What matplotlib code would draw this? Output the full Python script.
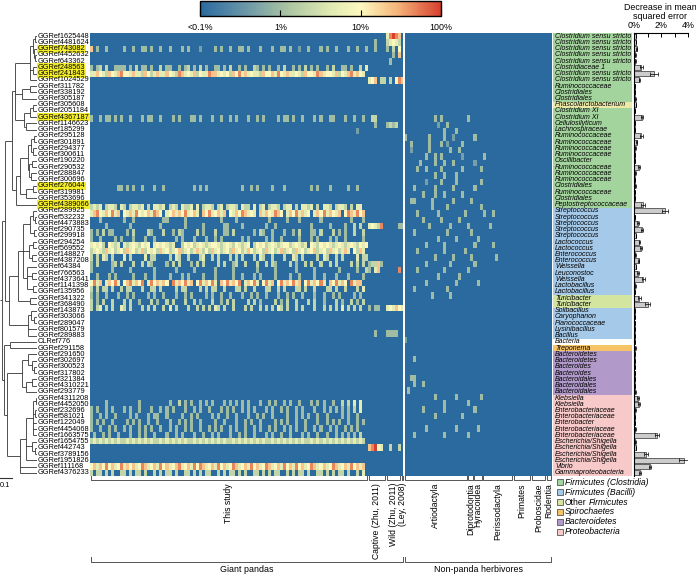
import numpy as np
import matplotlib.pyplot as plt
from matplotlib.colors import LinearSegmentedColormap, LogNorm
from matplotlib.cm import ScalarMappable
from matplotlib.patches import Rectangle
from matplotlib.transforms import blended_transform_factory

plt.rcParams['font.family'] = ['Liberation Sans', 'DejaVu Sans']

# ---- data -------------------------------------------------------------
otu_ids = ["GGRef1625448", "GGRef4481624", "GGRef743082", "GGRef4452632", "GGRef643362",
           "GGRef248563", "GGRef241843", "GGRef1024529", "GGRef311782", "GGRef338192",
           "GGRef305187", "GGRef305608", "GGRef2051184", "GGRef4367187", "GGRef1146623",
           "GGRef185299", "GGRef295128", "GGRef301891", "GGRef294377", "GGRef300611",
           "GGRef190220", "GGRef290532", "GGRef288847", "GGRef300696", "GGRef276044",
           "GGRef319981", "GGRef353696", "GGRef4389066", "GGRef289925", "GGRef532232",
           "GGRef4473883", "GGRef290735", "GGRef299918", "GGRef294254", "GGRef569552",
           "GGRef148827", "GGRef4387208", "GGRef64384", "GGRef766563", "GGRef4373641",
           "GGRef1141398", "GGRef135956", "GGRef341322", "GGRef368490", "GGRef143873",
           "GGRef303066", "GGRef289047", "GGRef801579", "GGRef289883", "CLRef776",
           "GGRef291158", "GGRef291650", "GGRef302697", "GGRef300523", "GGRef317802",
           "GGRef321384", "GGRef4310221", "GGRef293779", "GGRef4311208", "GGRef4452050",
           "GGRef232696", "GGRef581021", "GGRef122049", "GGRef4454068", "GGRef1663575",
           "GGRef1654755", "GGRef442743", "GGRef3789156", "GGRef1951826", "GGRef111168",
           "GGRef4376233"]
highlighted = ["GGRef743082", "GGRef248563", "GGRef241843", "GGRef4367187",
               "GGRef276044", "GGRef4389066"]

taxa = ["Clostridium sensu stricto"] * 5 + ["Clostridiaceae 1"] + ["Clostridium sensu stricto"] * 2 + [
    "Ruminococcaceae", "Clostridiales", "Clostridiales", "Phascolarctobacterium",
    "Clostridium XI", "Clostridium XI", "Cellulosilyticum", "Lachnospiraceae",
    "Ruminococcaceae", "Ruminococcaceae", "Ruminococcaceae", "Ruminococcaceae",
    "Oscillibacter", "Ruminococcaceae", "Ruminococcaceae", "Ruminococcaceae",
    "Clostridiales", "Ruminococcaceae", "Clostridiales", "Peptostreptococcaceae",
    "Streptococcus", "Streptococcus", "Streptococcus", "Streptococcus", "Streptococcus",
    "Lactococcus", "Lactococcus", "Enterococcus", "Enterococcus", "Weissella",
    "Leuconostoc", "Weissella", "Lactobacillus", "Lactobacillus", "Turicibacter",
    "Turicibacter", "Solibacillus", "Caryophanon", "Planococcaceae", "Lysinibacillus",
    "Bacillus", "Bacteria", "Treponema", "Bacteroidetes", "Bacteroidetes",
    "Bacteroides", "Bacteroides", "Bacteroidales", "Bacteroidales", "Bacteroidales",
    "Klebsiella", "Klebsiella", "Enterobacteriaceae", "Enterobacteriaceae", "Enterobacter",
    "Enterobacteriaceae", "Enterobacteriaceae", "Escherichia/Shigella",
    "Escherichia/Shigella", "Escherichia/Shigella", "Escherichia/Shigella", "Vibrio",
    "Gammaproteobacteria"]

# phylum / class code per row
tax_group = "C" * 11 + "Y" + "C" * 16 + "B" * 14 + "O" * 2 + "B" * 5 + "N" + "S" + "D" * 7 + "G" * 13
group_colors = {"C": "#a4d49d", "B": "#a5c9e9", "O": "#d3e59f", "Y": "#ece9a9",
                "S": "#f6c366", "D": "#b19aca", "G": "#f7c9c9", "N": "#ffffff"}
# (colour code, plain prefix, italic part)
legend_labels = [("C", "", "Firmicutes (Clostridia)"),
                 ("B", "", "Firmicutes (Bacilli)"),
                 ("O", "Other", "Firmicutes"),
                 ("S", "", "Spirochaetes"),
                 ("D", "", "Bacteroidetes"),
                 ("G", "", "Proteobacteria")]

# decrease in mean squared error (%) and its error bar
mse = [0.15, 0.15, 0.2, 0.1, 0.1, 0.55, 1.5, 0.4, 0.05, 0.05, 0.1, 0.15, 0.05, 0.6, 0.05, 0.05, 0.55, 0.2, 0.1, 0.05,
       0.05, 0.4, 0.1, 0.05, 0.1, 0.05, 0.05, 0.7, 2.3, 0.05, 0.3, 0.6, 0.15, 0.4, 0.5, 0.1, 0.35, 0.15, 0.3, 0.7,
       0.1, 0.05, 0.4, 1.0, 0.05, 0.05, 0.05, 0.05, 0.05, 0.05, 0.1, 0.05, 0.05, 0.05, 0.05, 0.05, 0.05, 0.1, 0.3, 0.4,
       0.1, 0.05, 0.05, 0.1, 1.7, 0.1, 0.15, 0.9, 3.7, 1.2, 0.45]
mse_err = [0.02, 0.02, 0.03, 0.02, 0.02, 0.08, 0.3, 0.06, 0.01, 0.01, 0.02, 0.02, 0.01, 0.08, 0.01, 0.01, 0.08, 0.03, 0.02, 0.01,
           0.01, 0.08, 0.02, 0.01, 0.02, 0.01, 0.01, 0.15, 0.25, 0.01, 0.05, 0.08, 0.03, 0.06, 0.07, 0.02, 0.05, 0.03, 0.05, 0.1,
           0.02, 0.01, 0.1, 0.15, 0.01, 0.01, 0.01, 0.01, 0.01, 0.01, 0.02, 0.01, 0.01, 0.01, 0.01, 0.01, 0.01, 0.02, 0.05, 0.08,
           0.02, 0.01, 0.01, 0.02, 0.15, 0.02, 0.03, 0.15, 0.4, 0.08, 0.05]

# sample groups (name, number of columns)
panda_groups = [("This study", 92), ("Captive (Zhu, 2011)", 6), ("Wild (Zhu, 2011)", 5), ("(Ley, 2008)", 1)]
herb_groups = [("Artiodactyla", 21), ("Diprotodontia", 2), ("Hyracoidea", 3), ("Perissodactyla", 10),
               ("Primates", 6), ("Proboscidae", 5), ("Rodentia", 2)]

# relative abundance per cell, '.' = <0.1%, digit d = 10**(d/3 - 1) %
study = [
    "", "",
    "7.3..3.....3..3..33.3..3..3...3.3...2....3.3..3..33.3...3...3..33.3..2..3...3.3..3...3..3..3",
    "", "",
    "3.34.4..3333.3.4.33.3..4.33..3.34.3.4.3..33.3.4..3.3..43.3.3..3.4..3.3.4.3.3..3.4..33.3..4.5",
    "5576547657866575547645755765487565746558775656476857565547667586575565476658756657465785765",
    "", "", "", "", "", "",
    "3..3.33.3.3..3...3.33..3...3.3...33.3...3..3..3.3...3..3.3....3.33.3..3...3.3..33...3..3..3",
    "", "........................................................................................2",
    "", "", "", "", "", "", "", "",
    ".........33.3.3..3...3..3.........3.3.3...........3..3.3....3...3........3.3...3.....3..3",
    "", "",
    "4545.4554.54.45545.4.5545.454.5445.5.4554.45.4554.544.5.45.4554.455.4.5545.4.554.4554.4.55",
    "5786576857.6575865675876.56757685675.76856757.657687565.75765876.57685756.576857657.6875867",
    "...3.......3..3.........33.....3...........3....3..........3.....3...3......3.........3...3",
    ".....3.......3.........3.......3.....3......33....3.......3..3...........3.....3....3..4.4",
    "3.3.4.33....3.4....43...4..3.43....4.3...4..33.4......3.43..3...3..3.4...33.4...4.3.3..4..4",
    "3..3....3.3...3...3..3......3.3...3...3..3.3......3.3.....3.3..3.....3...3.3...3.3..3.....3",
    "56564.6545.545654656.5656545..46564565456654565465456.465645654566456545.6546565456545654656",
    "45654756456475645746564756456745645754647564564756457645647564574564756456745647564575.6475",
    "4.4.54.4...5.4....5.44....4.54..4...45..4.4...4.4.4...4.54..4...4..54.4....4.54..4.4....5.44",
    "3.4....34.4...4..4.43....3.4.4...3.4.4....4.4..34..4...4..4.43....4.3..4.4..4..4.4....4.4.4",
    "3......3.....3.......3......3.....3......3.....3.......3.....3......3.....3.......3.....3..4",
    "..3...3.3.....3...3..3....3...3.3....3...3.....3..3...3.3....3....3..3....3..3...3...3....3",
    "6857.57685.6785768.5867576.8576857.6857685.7685768.57685.6857.68576857.6857685.768576.8577",
    "4.4.44.4..4.44...4..44.4....4.44....4.4.44..4...44.4..4...44..4.4...44.4..4...44.4..4...4.5",
    "3.3..3...3..3.3....3.3..3...3..3.3....3.3..3..3...3..3.3..3...3..3.3..3...3..3..3.3....3.3",
    "4.3.4..4...4.4..3...4.3..4.4...4..4.3...4..3.4.4....4.4.3....4.3.4..4...4.4..3...4.3..4.3.4",
    "4.45.4.4..54.4...4.4.4..4.5.4...4..4.4.4.54.4..4...4.4..4.4.4.54.4..4.4...4..4.4.4.5.4.4.4",
    "", "", "", "", "", "", "", "", "", "", "", "", "", "",
    ".....3..........3.........3..4.3.3..3.3.3...3.3.3.3.3...3..3.3..3.3..3...3.3.3..3..4.4.5.5",
    "3.3..3.3...3.3..3...3..3.3.3...3..3.3..3...3.3.3..3.3.3...3.3..3.3..3.3...3..3.3.3.3.3.4.5",
    "3..3.3..3....3.3...3.33..3....3..3.3....3.3..3..3...3..3.3..3....3..3.3.3..3..3....3.3..3..",
    "3.3.3..3....3.3.3..3..3...3..3.3.3..3....3..3...3..3.3..3....3.3.3..3..3...3..3.3.3..3..3.3.",
    "3..3..3.3..3.3..3.3.3..3..3.3..3.3..3..3.3.3..3.3..3..3.3..3.3..3.3.3..3..3.3..3.3..3.3.3..",
    ".3..3.3..3...3..3.3..3...3..3.3...3..3..3.3...3..3.3..3...3.3..3..3...3.3..3..3..3.3.3.3.4",
    "4545454545445454545454454545454544545454545454454545454545445454545454544545454545454545454",
    "", "", "",
    "6757686756857675687567586756785675868756758675687567586756875675867586756875675687567586757",
    "4.44.4.4..44.4.44.4..4.4.44.4..44.4.4.44..4.4.44.4.4..44.4.4.44..4.4.44.4..44.4.4.44.4..4.5",
    "4..4.4.4..4.44.4..4.4.4..4.44.4..4.4..4.44.4..4.4..4.44..4.4.4..4.44.4..4.4.4..4.44.4..4.5",
]
# captive (6) + wild (5) + Ley (1)
panda_other = [
    "......58987.", "..3...45654.", "..3...3.4.6.", "........3.7.", ".......3....",
    "", "", "567.44.4.687", "", "", "", "", "",
    ".44.........", "..3...3434..", "", "", "", "", "", "", "", "", "", "", "", "", "", "",
    "", "56548.....33", "", "", "", "", "", "34473.......", "3.57......8.",
    "", "", "", "", "", "3.33..565765", "", "", "", "..3...3333..",
    "", "", "", "", "", "", "", "", "", "", "", "", "", "", "", "", "",
    "78965..4..4.", "", "", "", "", "",
]
# non-panda herbivores (49)
herbivores = [
    "", "", "", "", "", "", "", "", "", "", "", "", "",
    "..........3.3........3", "...........2..3.......", ".............3...3",
    "3.......3....3..2......3", "..3.....3...3.2....3", "..2.....3......3..3",
    ".......3..3.3......2......3", ".....3....3..3..3......2", "....3..3....3......3.....3",
    "..........3..3...3", ".......2....3....3.......3", "...3......3.....3......3",
    "......3...3..3.....3", "..33.....3......3.....3", ".........3....3..........3",
    "....3......3........3.....3..3", "......3.....3.....3", "........3......3.....3......3",
    "...3..........3.......3", "...........3.....3......3", ".......3.....3.........3.....3",
    "....3........3......3", "..........3.....3.....3.......3", ".......3.......3.......3",
    "....3........3.......3", "...........3......3", ".......3.........3......3",
    "...3..........3", ".........3.....3",
    "", "", "", "", "", "", "2", "", "", "...3", "", "", "..33", "...3..3", ".3",
    "..........3......3.......3", ".............3.......3", "......3......3.........3",
    "..........3........3", "", ".......3.........3......3", "...3.........3.......3",
    "", "", "", "", "", "",
]

# cladogram: (branch position, children); leaves are row indices
clos_a = (30, [(33, [(35, [0, 1]), (34, [2, (35, [3, 4])])]), (33, [5, 6]), 7])
clos_b = (22, [(30, [8, 9]), 10])
clos_c = (24, [(30, [(33, [11, 12]), 13]), (26, [14, 15])])
clos_d = (20, [(28, [(31, [(34, [16, 17]), (33, [18, 19])]), (29, [(32, [20, 21]), (31, [22, 23])])]),
               (26, [(33, [24, 25]), 26])])
clostridia = (12, [(15, [clos_a, clos_b, clos_c]), (16, [clos_d, 27])])
bacilli = (9, [(18, [(23, [(30, [(33, [28, (35, [29, 30])]), (34, [31, 32])]),
                           (29, [(33, [33, 34]), (32, [35, 36])]),
                           (27, [37, (32, [38, 39]), (33, [40, 41])])]),
                     (30, [42, 43])]),
               (28, [(31, [44, (34, [45, 46])]), 47, 48])])
misc = (10, [49, 50])
bacteroidetes = (22, [(28, [51, (32, [52, (34, [53, 54])])]), (26, [(32, [55, 56]), 57])])
proteo = (20, [(26, [(33, [(36, [58, 59]), (35, [60, 61]), 62, 63, 64]), (32, [65, (35, [66, 67])]), 68]), 69, 70])
tree = (2, [(5, [clostridia, bacilli]), (4, [misc, (7, [bacteroidetes, proteo])])])

# ---- figure -------------------------------------------------------------
W, H = 696, 575
fig = plt.figure(figsize=(W / 100, H / 100), dpi=100)


def box(x0, y0, x1, y1):
    return [x0 / W, 1 - y1 / H, (x1 - x0) / W, (y1 - y0) / H]


def fy(py):
    return 1 - py / H


n = len(otu_ids)
cmap = LinearSegmentedColormap.from_list("abund", [
    (0.0, "#2a6a9f"), (0.2, "#6f9aa8"), (0.36, "#aac4a2"), (0.55, "#e3ecb3"),
    (0.67, "#fdf8bf"), (0.82, "#f5b47a"), (1.0, "#d7402e")])
norm = LogNorm(0.1, 100)


def levels(s, k):
    s = (s + "." * k)[:k]
    return [0 if c == "." else int(c) for c in s]


n_panda = sum(c for _, c in panda_groups)
n_herb = sum(c for _, c in herb_groups)
lev = np.array([levels(a, 92) + levels(b, n_panda - 92) + levels(c, n_herb)
                for a, b, c in zip(study, panda_other, herbivores)], float)
pct = np.where(lev > 0, 10 ** (lev / 3 - 1), 0.1)
ncol = lev.shape[1]

# heatmap
ax = fig.add_axes(box(90, 33, 552, 476))
ax.imshow(pct, cmap=cmap, norm=norm, aspect="auto", interpolation="nearest",
          extent=(0, ncol, n, 0))
ax.axvline(n_panda, color="white", lw=1.4)
ax.set_xlim(0, ncol)
ax.set_ylim(n, 0)
ax.axis("off")

tr = blended_transform_factory(ax.transData, fig.transFigure)
bk = dict(color="#555555", lw=0.7, clip_on=False, transform=tr)
start = 0
for name, cnt in panda_groups + herb_groups:
    a, b = start + 0.25, start + cnt - 0.25
    ax.plot([a, a, b, b], [fy(476), fy(480), fy(480), fy(476)], **bk)
    ax.text(start + cnt / 2, fy(483), name, rotation=90, ha="center", va="top",
            fontsize=6.2, transform=tr)
    start += cnt
for name, a, b in [("Giant pandas", 0, n_panda), ("Non-panda herbivores", n_panda, ncol)]:
    ax.plot([a + 0.2, a + 0.2, b - 0.2, b - 0.2], [fy(557), fy(562), fy(562), fy(557)], **bk)
    ax.text((a + b) / 2, fy(570), name, ha="center", va="center", fontsize=6.4, transform=tr)

# colour bar
cax = fig.add_axes(box(200, 1, 441, 16))
cb = fig.colorbar(ScalarMappable(norm=norm, cmap=cmap), cax=cax, orientation="horizontal")
cb.set_ticks([0.1, 1, 10, 100])
cb.set_ticklabels(["<0.1%", "1%", "10%", "100%"])
cax.minorticks_off()
cax.tick_params(direction="in", length=4, width=0.8, labelsize=6.4, pad=5)
cb.outline.set_linewidth(1.0)

# dendrogram + labels
dax = fig.add_axes(box(0, 33, 37, 476))
dax.set_xlim(0, 37)
dax.set_ylim(n, 0)
dax.axis("off")
lk = dict(color="#333333", lw=0.6, solid_capstyle="butt")


def draw(node):
    if isinstance(node, int):
        return 36.5, node + 0.5
    x, kids = node
    pts = [draw(k) for k in kids]
    ys = [p[1] for p in pts]
    for cx, cy in pts:
        dax.plot([x, cx], [cy, cy], **lk)
    dax.plot([x, x], [min(ys), max(ys)], **lk)
    return x, (min(ys) + max(ys)) / 2


rx, ry = draw(tree)
dax.plot([0, rx], [ry, ry], **lk)
for i, name in enumerate(otu_ids):
    kw = {}
    if name in highlighted:
        kw["bbox"] = dict(boxstyle="square,pad=0.08", fc="#f4ee2a", ec="none")
    dax.text(37.3, i + 0.5, name, fontsize=5.3, va="center", ha="left", **kw)
dax.plot([0, 12], [n + 0.3, n + 0.3], color="#333333", lw=0.8, clip_on=False)
dax.text(0, n + 1.6, "0.1", fontsize=5.3, va="center", ha="left")

# taxonomy strip
tax = fig.add_axes(box(553, 33, 632, 476))
tax.set_xlim(0, 1)
tax.set_ylim(n, 0)
tax.axis("off")
for i, (t, g) in enumerate(zip(taxa, tax_group)):
    tax.add_patch(Rectangle((0, i), 1, 1, fc=group_colors[g], ec="none"))
    tax.text(0.025, i + 0.5, t, fontsize=5.0, style="italic", va="center", ha="left")

# legend
lax = fig.add_axes(box(553, 476, 696, 540))
lax.set_xlim(553, 696)
lax.set_ylim(540, 476)
lax.axis("off")
renderer = fig.canvas.get_renderer()
for k, (g, plain, ital) in enumerate(legend_labels):
    yy = 482 + 10 * k
    lax.add_patch(Rectangle((557, yy - 2.8), 5.6, 5.6, fc=group_colors[g], ec="#555555", lw=0.6))
    x0 = 565
    if plain:
        t = lax.text(x0, yy, plain, fontsize=6.2, va="center", ha="left")
        bb = t.get_window_extent(renderer).transformed(lax.transData.inverted())
        x0 = bb.x1 + 2.2
    lax.text(x0, yy, ital, fontsize=6.2, style="italic", va="center", ha="left")

# MSE bars
bax = fig.add_axes(box(634, 33, 688, 476))
bax.barh(np.arange(n) + 0.5, mse, height=0.8, color="#cccccc", edgecolor="black", lw=0.4,
         xerr=mse_err, error_kw=dict(lw=0.5, capsize=1.2, capthick=0.5, ecolor="black"))
bax.set_xlim(0, 4)
bax.set_ylim(n, 0)
bax.spines[["right", "bottom"]].set_visible(False)
bax.spines[["top", "left"]].set_linewidth(0.8)
bax.xaxis.tick_top()
bax.set_xticks([0, 2, 4])
bax.set_xticks([1, 3], minor=True)
bax.set_xticklabels(["0%", "2%", "4%"])
bax.tick_params(axis="x", which="both", direction="in", length=3, width=0.7, labelsize=6.4, pad=2)
bax.set_yticks([])
fig.text(660 / W, fy(12), "Decrease in mean\nsquared error", ha="center", va="center",
         fontsize=6.4, linespacing=1.1)

fig.savefig("out.png", dpi=100)
